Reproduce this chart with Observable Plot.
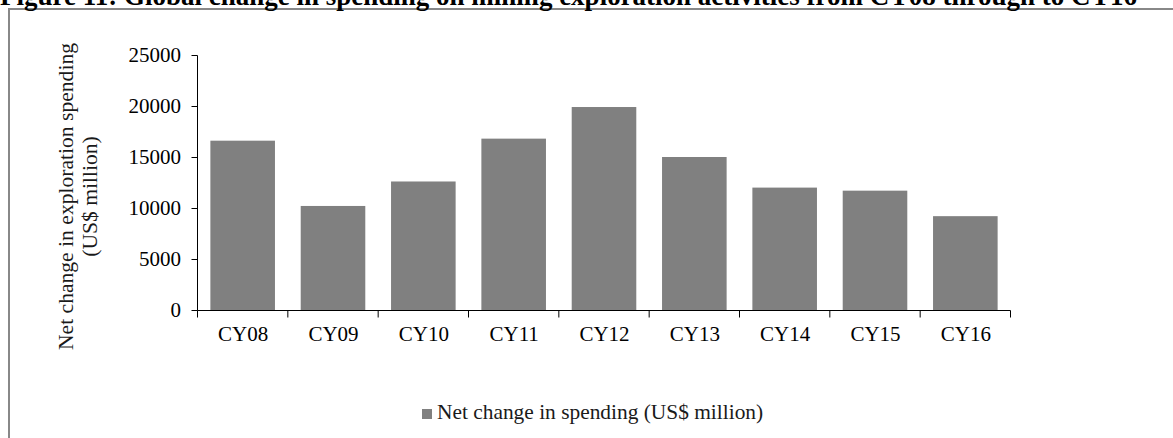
<!DOCTYPE html>
<html><head><meta charset="utf-8">
<script src="https://cdn.jsdelivr.net/npm/d3@7"></script>
<script src="https://cdn.jsdelivr.net/npm/@observablehq/plot@0.6"></script>
<style>
html,body{margin:0;padding:0;background:#fff;width:1173px;height:438px;overflow:hidden;position:relative;font-family:"Liberation Serif","Times New Roman",serif;}
#box{position:absolute;left:8px;top:7.5px;width:1300px;height:600px;border:2px solid #888;box-sizing:border-box}
#chart{position:absolute;left:0;top:0}
#title{position:absolute;left:0;top:-17.5px;font-weight:bold;font-size:27px;line-height:27px;white-space:nowrap;color:#000;}
#legend{position:absolute;left:422px;top:402px;font-size:21.4px;line-height:21.5px;color:#1a1a1a;white-space:nowrap}
#legend .sw{display:inline-block;width:10px;height:10px;background:#808080;margin-right:5px;vertical-align:baseline}
</style></head>
<body>
<div id="box"></div>
<div id="chart"></div>
<div id="title"></div>
<div id="legend"></div>
<script>
const titleText = "Figure 11: Global change in spending on mining exploration activities from CY08 through to CY16";
const categories = ["CY08","CY09","CY10","CY11","CY12","CY13","CY14","CY15","CY16"];
const values = [16600,10200,12600,16800,19900,15000,12000,11700,9200];
const yTicks = [0,5000,10000,15000,20000,25000];
const yTitleLines = ["Net change in exploration spending","(US$ million)"];
const seriesName = "Net change in spending (US$ million)";

const data = categories.map((c,i)=>({cat:c, value:values[i]}));

const chart = Plot.plot({
  width:1173, height:438,
  marginLeft:197.5, marginRight:162.5, marginTop:55, marginBottom:128,
  style:{background:"transparent", fontFamily:"'Liberation Serif','Times New Roman',serif", fontSize:"21px", color:"#000", overflow:"visible"},
  x:{type:"band", domain:categories, paddingInner:0.285, paddingOuter:0.1425, round:false, label:null},
  y:{domain:[0,25000], label:null},
  marks:[
    Plot.barY(data,{x:"cat", y:"value", fill:"#808080"}),
    Plot.ruleY([0],{stroke:"#000"}),
    Plot.axisY({ticks:yTicks, tickSize:6, tickPadding:11, tickFormat:d=>String(d), label:null}),
    Plot.axisX({tickSize:0, tickPadding:16, label:null})
  ]
});
document.getElementById("chart").appendChild(chart);

const svg = d3.select(chart);
const xs = chart.scale("x"), ys = chart.scale("y");
const xLeft = xs.range[0];
const yZero = ys.apply(0) + 0.5, yTop = ys.apply(25000) + 0.5;
const g = svg.append("g").attr("stroke","#000").attr("stroke-width",1);
g.append("line").attr("x1",xLeft).attr("x2",xLeft).attr("y1",yTop).attr("y2",yZero);
const gap = (xs.step - xs.bandwidth)/2;
const bounds = categories.map(c => xs.apply(c) - gap);
bounds.push(xs.apply(categories[categories.length-1]) + xs.bandwidth + gap);
bounds.forEach(b => g.append("line").attr("x1",b).attr("x2",b).attr("y1",yZero).attr("y2",yZero+7));

const yCenter = (ys.apply(0) + ys.apply(25000))/2 + 14;
yTitleLines.forEach((t,i) => {
  svg.append("text")
    .attr("transform",`translate(${73 + i*24},${yCenter}) rotate(-90)`)
    .attr("text-anchor","middle")
    .attr("fill","#1a1a1a")
    .style("font-size","21.6px")
    .text(t);
});

document.getElementById("title").textContent = titleText;
const lg = document.getElementById("legend");
const sw = document.createElement("span"); sw.className = "sw"; lg.appendChild(sw);
lg.appendChild(document.createTextNode(seriesName));
</script>
</body></html>
